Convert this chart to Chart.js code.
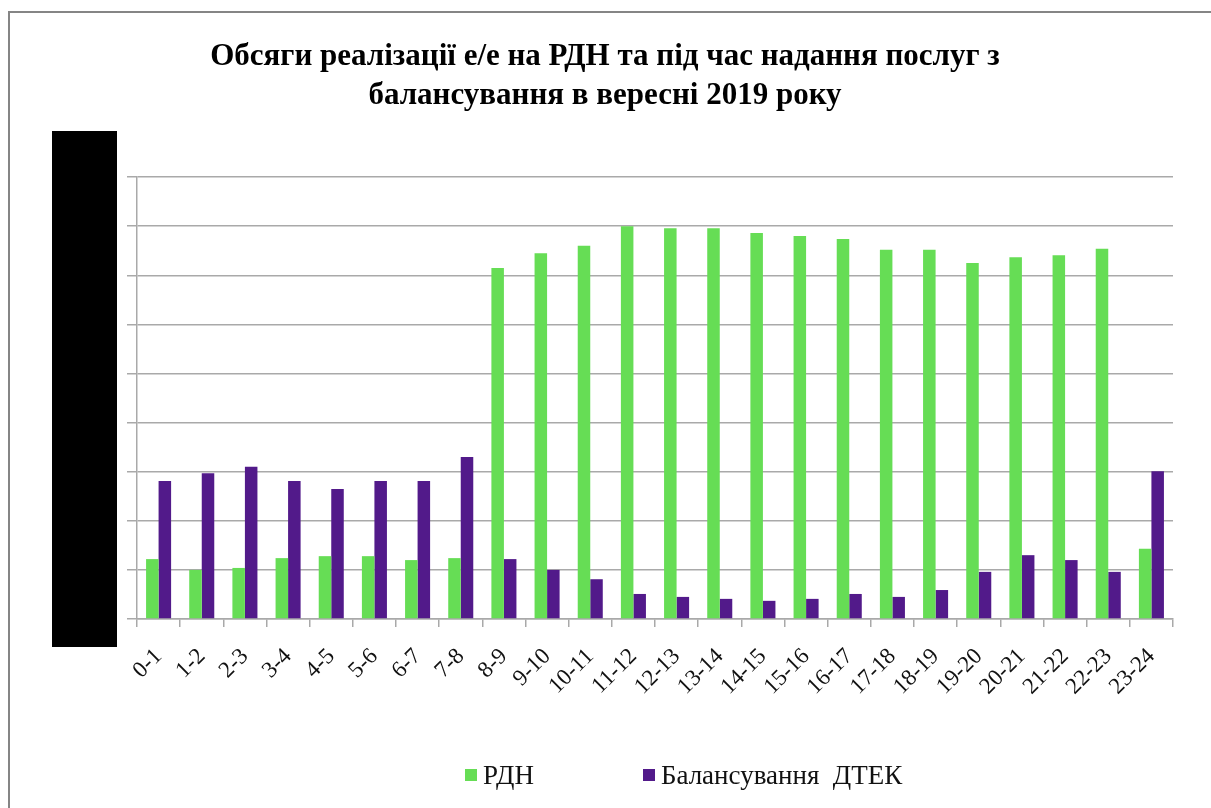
<!DOCTYPE html>
<html>
<head>
<meta charset="utf-8">
<script src="https://cdn.jsdelivr.net/npm/chart.js@4"></script>
<style>
    html, body { margin: 0; padding: 0; background: #fff; }
    #wrap { position: relative; width: 1211px; height: 808px; overflow: hidden; }
    #frame { position: absolute; left: 8px; top: 11px; width: 1300px; height: 900px; border: 2px solid #858585; }
    #mask { position: absolute; left: 52px; top: 131px; width: 65px; height: 516px; background: #000; }
    #chart { position: absolute; left: 0; top: 0; }
    #legend { position: absolute; top: 760px; left: 465px; display: flex; font: 27px/30px 'Liberation Serif', 'Times New Roman', serif; color: #111; }
    #legend .item { display: flex; align-items: center; }
    #legend .box { width: 12px; height: 12px; margin-right: 6px; }
</style>
</head>
<body>
<div id="wrap">
    <div id="frame"></div>
    <canvas id="chart" width="1211" height="808"></canvas>
    <div id="mask"></div>
    <div id="legend"></div>
</div>
<script>
    const HOURS = ['0-1','1-2','2-3','3-4','4-5','5-6','6-7','7-8','8-9','9-10','10-11','11-12',
                   '12-13','13-14','14-15','15-16','16-17','17-18','18-19','19-20','20-21','21-22','22-23','23-24'];
    // значення у поділках сітки (підписи осі закриті на оригіналі)
    const RDN = [1.22, 1.00, 1.04, 1.24, 1.28, 1.28, 1.20, 1.24, 7.15, 7.45, 7.60, 8.00,
                 7.96, 7.96, 7.86, 7.80, 7.74, 7.52, 7.52, 7.25, 7.37, 7.41, 7.54, 1.43];
    const DTEK = [2.81, 2.97, 3.10, 2.81, 2.65, 2.81, 2.81, 3.30, 1.22, 1.00, 0.81, 0.51,
                  0.45, 0.41, 0.37, 0.41, 0.51, 0.45, 0.59, 0.96, 1.30, 1.20, 0.96, 3.01];
    const SERIES_NAMES = ['РДН', 'Балансування  ДТЕК'];
    const COLORS = ['#66DD55', '#521A8A'];
    const TITLE = ['Обсяги реалізації е/е на РДН та під час надання послуг з', 'балансування в вересні 2019 року'];

    const GRID = '#a9a9a9';
    const SERIF = "'Liberation Serif', 'Times New Roman', serif";

    // легенда
    const legendEl = document.getElementById('legend');
    SERIES_NAMES.forEach((name, i) => {
        const item = document.createElement('div');
        item.className = 'item';
        if (i > 0) item.style.marginLeft = '109px';
        item.innerHTML = '<span class="box" style="background:' + COLORS[i] + '"></span><span style="white-space:pre">' + name + '</span>';
        legendEl.appendChild(item);
    });

    new Chart(document.getElementById('chart'), {
        type: 'bar',
        data: {
            labels: HOURS,
            datasets: [
                { label: SERIES_NAMES[0], data: RDN, backgroundColor: COLORS[0] },
                { label: SERIES_NAMES[1], data: DTEK, backgroundColor: COLORS[1] }
            ]
        },
        options: {
            responsive: false,
            animation: false,
            layout: { padding: { top: 37, left: 37, right: 38, bottom: 39 } },
            datasets: { bar: { categoryPercentage: 0.58, barPercentage: 1.0 } },
            plugins: {
                legend: { display: false },
                tooltip: { enabled: false },
                title: {
                    display: true,
                    text: TITLE,
                    color: '#000',
                    font: { family: SERIF, size: 31, weight: 'bold', lineHeight: 1.26 },
                    padding: { top: 0, bottom: 62 }
                }
            },
            scales: {
                x: {
                    afterFit: (s) => { s.height = 150; },
                    grid: { drawOnChartArea: false, drawTicks: true, tickLength: 8, color: GRID, lineWidth: 1.5 },
                    border: { color: GRID, width: 1.5 },
                    ticks: {
                        color: '#111', minRotation: 45, maxRotation: 45, autoSkip: false, padding: 16,
                        font: { family: SERIF, size: 23 }
                    }
                },
                y: {
                    min: 0, max: 9,
                    afterFit: (s) => { s.width = 100; },
                    grid: { color: GRID, lineWidth: 1.5, tickLength: 10 },
                    border: { color: GRID, width: 1.5 },
                    ticks: { stepSize: 1, display: false }
                }
            }
        }
    });
</script>
</body>
</html>
